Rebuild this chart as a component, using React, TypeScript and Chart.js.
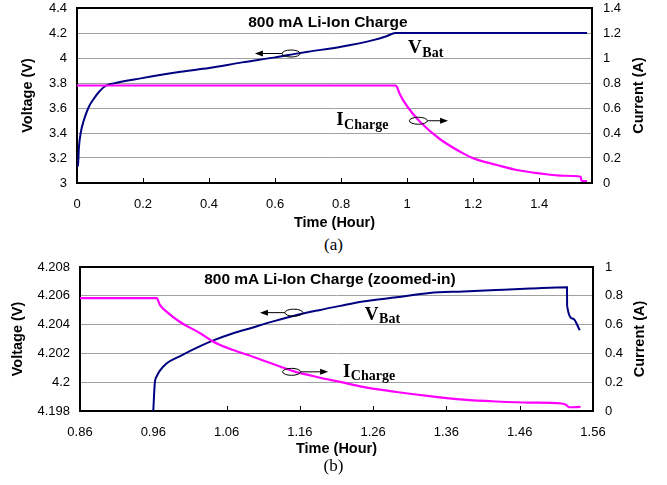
import React, { useEffect, useRef } from "react";
import { Chart, registerables } from "chart.js";

Chart.register(...registerables);

// ---------- Data: panel (a) ----------
const timeTopV = [0, 0.003, 0.006, 0.011, 0.021, 0.036, 0.052, 0.067, 0.087, 0.112, 0.193, 0.314, 0.4, 0.5, 0.6, 0.665, 0.7, 0.8, 0.9, 0.935, 0.965, 1.545];
const voltTop = [3.13, 3.144, 3.29, 3.398, 3.504, 3.61, 3.678, 3.73, 3.778, 3.797, 3.837, 3.89, 3.92, 3.965, 4.005, 4.035, 4.05, 4.09, 4.145, 4.172, 4.2, 4.2];
const timeTopI = [0, 0.965, 0.969, 0.978, 1.001, 1.039, 1.1, 1.171, 1.203, 1.272, 1.332, 1.4, 1.474, 1.526, 1.528, 1.545];
const currTop = [0.78, 0.78, 0.77, 0.71, 0.61, 0.49, 0.35, 0.235, 0.195, 0.144, 0.104, 0.077, 0.058, 0.05, 0.016, 0.016];

// ---------- Data: panel (b) ----------
const timeBotV = [0.96, 0.962, 0.9646, 0.969, 0.978, 0.996, 1.024, 1.042, 1.069, 1.096, 1.115, 1.151, 1.186, 1.215, 1.246, 1.292, 1.337, 1.383, 1.428, 1.474, 1.5245, 1.5247, 1.533, 1.542];
const voltBot = [4.198, 4.1999, 4.2004, 4.2008, 4.2013, 4.2018, 4.2025, 4.2029, 4.2034, 4.2038, 4.2041, 4.2046, 4.205, 4.2053, 4.2056, 4.2059, 4.2062, 4.2063, 4.2064, 4.2065, 4.2066, 4.2053, 4.2044, 4.2036];
const timeBotI = [0.86, 0.9646, 0.969, 0.978, 0.996, 1.024, 1.042, 1.069, 1.096, 1.115, 1.151, 1.186, 1.215, 1.246, 1.292, 1.337, 1.383, 1.428, 1.474, 1.517, 1.524, 1.527, 1.543];
const currBot = [0.784, 0.784, 0.737, 0.69, 0.62, 0.54, 0.481, 0.423, 0.377, 0.342, 0.277, 0.233, 0.202, 0.167, 0.132, 0.103, 0.079, 0.066, 0.058, 0.052, 0.04, 0.026, 0.028];

// ---------- Ticks ----------
const xTicksTop = [0, 0.2, 0.4, 0.6, 0.8, 1, 1.2, 1.4];
const vTicksTop = [3, 3.2, 3.4, 3.6, 3.8, 4, 4.2, 4.4];
const iTicksTop = [0, 0.2, 0.4, 0.6, 0.8, 1, 1.2, 1.4];
const xTicksBot = [0.86, 0.96, 1.06, 1.16, 1.26, 1.36, 1.46, 1.56];
const vTicksBot = [4.198, 4.2, 4.202, 4.204, 4.206, 4.208];
const iTicksBot = [0, 0.2, 0.4, 0.6, 0.8, 1];

// ---------- Text ----------
const titleTop = "800 mA Li-Ion Charge";
const titleBot = "800 mA Li-Ion Charge (zoomed-in)";
const xTitle = "Time (Hour)";
const vTitle = "Voltage (V)";
const iTitle = "Current (A)";

const SANS = "'Liberation Sans', Arial, sans-serif";
const SERIF = "'Liberation Serif', 'Times New Roman', serif";
const NAVY = "#000080";
const PINK = "#ff00ff";

function drawSub(ctx: CanvasRenderingContext2D, main: string, sub: string, x: number, y: number) {
  ctx.font = `bold 19px ${SERIF}`;
  ctx.textAlign = "left";
  ctx.textBaseline = "alphabetic";
  ctx.fillText(main, x, y);
  const w = ctx.measureText(main).width;
  ctx.font = `bold 14px ${SERIF}`;
  ctx.fillText(sub, x + w + 0.5, y + 3.5);
}

function drawMarker(ctx: CanvasRenderingContext2D, cx: number, cy: number, tip: number) {
  ctx.strokeStyle = "#000";
  ctx.fillStyle = "#000";
  ctx.lineWidth = 1;
  ctx.beginPath();
  ctx.ellipse(cx, cy, 9, 3.5, 0, 0, Math.PI * 2);
  ctx.stroke();
  const dir = tip > cx ? 1 : -1;
  const start = cx + dir * 9;
  ctx.beginPath();
  ctx.moveTo(start, cy);
  ctx.lineTo(tip - dir * 7, cy);
  ctx.stroke();
  ctx.beginPath();
  ctx.moveTo(tip, cy);
  ctx.lineTo(tip - dir * 8, cy - 3);
  ctx.lineTo(tip - dir * 8, cy + 3);
  ctx.closePath();
  ctx.fill();
}

const decorPlugin = {
  id: "decor",
  beforeDatasetsDraw(chart: any, _args: any, o: any) {
    const { ctx, chartArea: a, scales } = chart;
    const xs = scales.x;
    ctx.save();
    ctx.strokeStyle = "#000";
    ctx.lineWidth = 1;
    for (const v of o.xTicks) {
      const px = Math.round(xs.getPixelForValue(v)) + 0.5;
      if (px <= a.left + 2 || px >= a.right - 2) continue;
      ctx.beginPath();
      ctx.moveTo(px, a.bottom);
      ctx.lineTo(px, a.bottom - 5);
      ctx.stroke();
    }
    ctx.lineWidth = 2;
    ctx.strokeRect(a.left, a.top, a.right - a.left, a.bottom - a.top);
    ctx.restore();
  },
  afterDatasetsDraw(chart: any, _args: any, o: any) {
    const { ctx, chartArea: a, scales } = chart;
    const xs = scales.x, yv = scales.yV, yi = scales.yI;
    ctx.save();
    ctx.fillStyle = "#000";
    ctx.font = `bold 15.5px ${SANS}`;
    ctx.textAlign = "center";
    ctx.textBaseline = "middle";
    ctx.fillText(o.title, xs.getPixelForValue(o.titleX), yv.getPixelForValue(o.titleY));
    drawSub(ctx, "V", "Bat", xs.getPixelForValue(o.vLabel[0]), yv.getPixelForValue(o.vLabel[1]));
    drawSub(ctx, "I", "Charge", xs.getPixelForValue(o.iLabel[0]), yi.getPixelForValue(o.iLabel[1]));
    drawMarker(ctx, xs.getPixelForValue(o.vMark[0]), yv.getPixelForValue(o.vMark[1]), xs.getPixelForValue(o.vMark[2]));
    drawMarker(ctx, xs.getPixelForValue(o.iMark[0]), yi.getPixelForValue(o.iMark[1]), xs.getPixelForValue(o.iMark[2]));
    ctx.fillStyle = "#000";
    ctx.font = `bold 14.5px ${SANS}`;
    ctx.textAlign = "center";
    ctx.textBaseline = "middle";
    ctx.translate(a.right + o.rightTitleDx, (a.top + a.bottom) / 2);
    ctx.rotate(-Math.PI / 2);
    ctx.fillText(iTitle, 0, 0);
    ctx.restore();
  },
};

type Panel = {
  tv: number[]; v: number[]; ti: number[]; i: number[];
  xMin: number; xMax: number; xTicks: number[];
  vMin: number; vMax: number; vTicks: number[];
  iMin: number; iMax: number; iTicks: number[];
  leftW: number; rightW: number; xAxisH: number; padTop: number;
  yTitlePad: number; xLabelPad: number; rightLabelPad: number;
  decor: any;
};

function setTicks(list: number[]) {
  return (s: any) => {
    s.ticks = list.map((value) => ({ value }));
  };
}

function buildChart(canvas: HTMLCanvasElement, p: Panel) {
  return new Chart(canvas, {
    type: "line",
    data: {
      datasets: [
        {
          label: "I",
          data: p.ti.map((t, k) => ({ x: t, y: p.i[k] })),
          yAxisID: "yI",
          borderColor: PINK,
          borderWidth: 2.2,
          pointRadius: 0,
          cubicInterpolationMode: "monotone",
          fill: false,
        },
        {
          label: "V",
          data: p.tv.map((t, k) => ({ x: t, y: p.v[k] })),
          yAxisID: "yV",
          borderColor: NAVY,
          borderWidth: 2,
          pointRadius: 0,
          cubicInterpolationMode: "monotone",
          fill: false,
        },
      ],
    },
    options: {
      animation: false,
      responsive: false,
      events: [],
      layout: { padding: { top: p.padTop, left: 0, right: 0, bottom: 0 } },
      plugins: {
        legend: { display: false },
        tooltip: { enabled: false },
        decor: { ...p.decor, xTicks: p.xTicks },
      } as any,
      scales: {
        x: {
          type: "linear",
          min: p.xMin,
          max: p.xMax,
          afterBuildTicks: setTicks(p.xTicks),
          afterFit: (s: any) => {
            s.height = p.xAxisH;
            s.paddingLeft = 0;
            s.paddingRight = 0;
          },
          grid: { display: false, drawTicks: false },
          border: { display: false },
          ticks: {
            autoSkip: false,
            maxRotation: 0,
            padding: p.xLabelPad,
            color: "#000",
            font: { size: 13, family: SANS },
            callback: (v: any) => String(v),
          },
          title: {
            display: true,
            text: xTitle,
            color: "#000",
            padding: 0,
            font: { size: 14.5, weight: "bold", family: SANS },
          },
        },
        yV: {
          type: "linear",
          position: "left",
          min: p.vMin,
          max: p.vMax,
          afterBuildTicks: setTicks(p.vTicks),
          afterFit: (s: any) => {
            s.width = p.leftW;
            s.paddingTop = 0;
            s.paddingBottom = 0;
          },
          grid: { display: true, drawTicks: false, color: "#a0a0a0", lineWidth: 1 },
          border: { display: false },
          ticks: {
            padding: 10,
            color: "#000",
            font: { size: 13, family: SANS },
            callback: (v: any) => String(v),
          },
          title: {
            display: true,
            text: vTitle,
            color: "#000",
            padding: { top: p.yTitlePad, bottom: 0 },
            font: { size: 14.5, weight: "bold", family: SANS },
          },
        },
        yI: {
          type: "linear",
          position: "right",
          min: p.iMin,
          max: p.iMax,
          afterBuildTicks: setTicks(p.iTicks),
          afterFit: (s: any) => {
            s.width = p.rightW;
            s.paddingTop = 0;
            s.paddingBottom = 0;
          },
          grid: { display: false, drawTicks: false },
          border: { display: false },
          ticks: {
            padding: p.rightLabelPad,
            color: "#000",
            font: { size: 13, family: SANS },
            callback: (v: any) => String(v),
          },
        },
      },
    } as any,
    plugins: [decorPlugin as any],
  });
}

const panelA: Panel = {
  tv: timeTopV, v: voltTop, ti: timeTopI, i: currTop,
  xMin: 0, xMax: 1.56, xTicks: xTicksTop,
  vMin: 3, vMax: 4.4, vTicks: vTicksTop,
  iMin: 0, iMax: 1.4, iTicks: iTicksTop,
  leftW: 77, rightW: 75, xAxisH: 49, padTop: 8,
  yTitlePad: 19, xLabelPad: 14, rightLabelPad: 11,
  decor: {
    title: titleTop, titleX: 0.76, titleY: 4.28,
    vLabel: [1.003, 4.0376], iLabel: [0.785, 0.464],
    vMark: [0.6485, 4.036, 0.539], iMark: [1.034, 0.498, 1.124],
    rightTitleDx: 47,
  },
};

const panelB: Panel = {
  tv: timeBotV, v: voltBot, ti: timeBotI, i: currBot,
  xMin: 0.86, xMax: 1.56, xTicks: xTicksBot,
  vMin: 4.198, vMax: 4.208, vTicks: vTicksBot,
  iMin: 0, iMax: 1, iTicks: iTicksBot,
  leftW: 80, rightW: 74, xAxisH: 47, padTop: 21,
  yTitlePad: 9.6, xLabelPad: 13.5, rightLabelPad: 12,
  decor: {
    title: titleBot, titleX: 1.201, titleY: 4.2071,
    vLabel: [1.2487, 4.20433], iLabel: [1.2187, 0.237],
    vMark: [1.1518, 4.20483, 1.1055], iMark: [1.1487, 0.272, 1.1986],
    rightTitleDx: 47,
  },
};

function ChartCanvas({ panel, top, height }: { panel: Panel; top: number; height: number }) {
  const ref = useRef<HTMLCanvasElement | null>(null);
  useEffect(() => {
    if (!ref.current) return;
    const c = buildChart(ref.current, panel);
    return () => c.destroy();
  }, [panel]);
  return (
    <canvas
      ref={ref}
      width={667}
      height={height}
      style={{ position: "absolute", left: 0, top, width: 667, height, display: "block" }}
    />
  );
}

const captionStyle: React.CSSProperties = {
  position: "absolute",
  left: 0,
  width: 667,
  textAlign: "center",
  fontFamily: SERIF,
  fontSize: 17,
  lineHeight: "17px",
  color: "#000",
};

export default function App() {
  return (
    <div style={{ position: "absolute", left: 0, top: 0, width: 667, height: 485, background: "#fff", overflow: "hidden" }}>
      <ChartCanvas panel={panelA} top={0} height={232} />
      <div style={{ ...captionStyle, top: 236 }}>(a)</div>
      <ChartCanvas panel={panelB} top={246} height={212} />
      <div style={{ ...captionStyle, top: 457 }}>(b)</div>
    </div>
  );
}
